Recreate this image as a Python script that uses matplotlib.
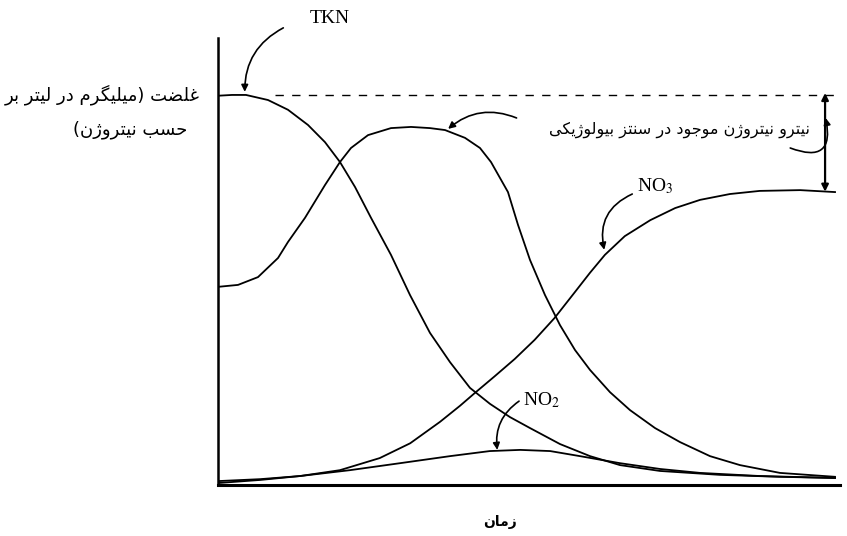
import matplotlib
matplotlib.use("Agg")
import matplotlib.pyplot as plt
import numpy as np

# time axis: 0..100, concentration axis: 0..~115 (TKN start = 100)
tkn_t = [0, 2.25, 4.5, 8.04, 11.25, 14.47, 17.2, 19.61, 22.03, 24.6, 27.81, 30.87, 34.08,
         37.3, 40.51, 43.73, 46.95, 50.16, 54.98, 59.81, 64.63, 71.06, 80.71, 90.35, 99.2]
tkn_c = [99.8, 100.0, 100.0, 98.7, 96.2, 92.3, 87.9, 82.8, 76.4, 68.5, 59.0, 48.7, 39.0,
         31.5, 24.9, 20.8, 17.4, 14.6, 10.5, 7.4, 5.1, 3.6, 2.6, 2.1, 1.8]

nh3_t = [0, 3.22, 6.43, 9.65, 11.25, 13.99, 17.2, 19.61, 21.38, 24.12, 27.81, 31.03, 34.08,
         36.5, 39.71, 42.12, 43.89, 46.62, 48.23, 50.16, 52.57, 54.98, 57.4, 59.81, 63.02,
         66.24, 70.26, 74.28, 79.1, 83.92, 90.35, 99.2]
nh3_c = [50.8, 51.3, 53.3, 58.2, 62.3, 68.5, 76.9, 82.8, 86.4, 89.7, 91.5, 91.8, 91.5,
         91.0, 89.0, 86.4, 82.8, 75.1, 66.7, 57.7, 48.7, 41.0, 34.6, 29.5, 23.8,
         19.2, 14.6, 11.0, 7.4, 5.1, 3.1, 2.1]

no3_t = [0, 6.8, 13.2, 19.6, 26.0, 30.9, 35.7, 38.9, 41.3, 44.5, 47.7, 50.9, 54.1,
         57.4, 59.8, 62.2, 65.4, 69.5, 73.5, 77.5, 82.3, 87.1, 93.6, 99.2]
no3_c = [1.0, 1.5, 2.3, 3.8, 6.9, 10.7, 16.2, 20.3, 23.6, 27.9, 32.3, 37.2, 42.8,
         49.5, 54.4, 59.0, 63.8, 67.9, 71.0, 73.1, 74.6, 75.4, 75.6, 75.1]

no2_t = [0, 6.8, 13.2, 21.2, 29.3, 37.3, 43.7, 48.6, 53.4, 58.2, 64.6, 71.1, 77.5, 87.1, 99.2]
no2_c = [0.5, 1.3, 2.3, 3.8, 5.6, 7.4, 8.7, 9.0, 8.7, 7.4, 5.6, 4.1, 3.1, 2.3, 1.8]

# persian labels
ylab1 = "غلضت (میلیگرم در لیتر بر"
ylab2 = "حسب نیتروژن)"
xlab = "زمان"
biolab = "نیترو نیتروژن موجود در سنتز بیولوژیکی"

# contextual forms: isolated, final, initial, medial
FORMS = {
    'ا': (0xFE8D, 0xFE8E), 'د': (0xFEA9, 0xFEAA), 'ر': (0xFEAD, 0xFEAE),
    'ز': (0xFEAF, 0xFEB0), 'ژ': (0xFB8A, 0xFB8B), 'و': (0xFEED, 0xFEEE),
    'ب': (0xFE8F, 0xFE90, 0xFE91, 0xFE92), 'ت': (0xFE95, 0xFE96, 0xFE97, 0xFE98),
    'ج': (0xFE9D, 0xFE9E, 0xFE9F, 0xFEA0), 'ح': (0xFEA1, 0xFEA2, 0xFEA3, 0xFEA4),
    'س': (0xFEB1, 0xFEB2, 0xFEB3, 0xFEB4), 'ض': (0xFEBD, 0xFEBE, 0xFEBF, 0xFEC0),
    'غ': (0xFECD, 0xFECE, 0xFECF, 0xFED0), 'ل': (0xFEDD, 0xFEDE, 0xFEDF, 0xFEE0),
    'م': (0xFEE1, 0xFEE2, 0xFEE3, 0xFEE4), 'ن': (0xFEE5, 0xFEE6, 0xFEE7, 0xFEE8),
    'ی': (0xFBFC, 0xFBFD, 0xFBFE, 0xFBFF), 'ک': (0xFB8E, 0xFB8F, 0xFB90, 0xFB91),
    'گ': (0xFB92, 0xFB93, 0xFB94, 0xFB95),
}


#shape arabic letters and put them in visual order (no raqm in matplotlib)
def persian(text):
    out = []
    for i, ch in enumerate(text):
        f = FORMS.get(ch)
        if f is None:
            out.append(ch)
            continue
        prev = text[i-1] if i > 0 else ''
        nxt = text[i+1] if i+1 < len(text) else ''
        jp = prev in FORMS and len(FORMS[prev]) == 4
        jn = nxt in FORMS and len(f) == 4
        if len(f) == 2:
            out.append(chr(f[1] if jp else f[0]))
        else:
            idx = {(False, False): 0, (True, False): 1, (False, True): 2, (True, True): 3}[(jp, jn)]
            out.append(chr(f[idx]))
    s = ''.join(out)[::-1]
    return s.translate(str.maketrans('()', ')('))


plt.rcParams['font.family'] = ['Liberation Serif', 'DejaVu Sans']
plt.rcParams['mathtext.fontset'] = 'stix'

fig = plt.figure(figsize=(8.47, 5.36), dpi=100)
W, H = 847.0, 536.0
ax = fig.add_axes([218/W, (H-485)/H, (840-218)/W, (485-38)/H])
ax.set_xlim(0, 100)
ax.set_ylim(0, 114.6)

lw = 1.3
ax.plot(tkn_t, tkn_c, color='black', lw=lw)
ax.plot(nh3_t, nh3_c, color='black', lw=lw)
ax.plot(no3_t, no3_c, color='black', lw=lw)
ax.plot(no2_t, no2_c, color='black', lw=lw)

# dashed level of the initial TKN
ax.plot([9.2, 100], [100, 100], color='black', lw=1.0, ls=(0, (6, 6)))
# double arrow: nitrogen used in synthesis
ax.annotate("", xy=(97.6, 100.5), xytext=(97.6, 75.2),
            arrowprops=dict(arrowstyle="<|-|>", color='black', lw=1.6,
                            mutation_scale=10, shrinkA=0, shrinkB=0))

for side in ['top', 'right']:
    ax.spines[side].set_visible(False)
ax.spines['left'].set_linewidth(1.8)
ax.spines['bottom'].set_linewidth(2.2)
ax.set_xticks([])
ax.set_yticks([])

arrow = dict(arrowstyle="-|>", color='black', lw=1.2, mutation_scale=10, shrinkA=0, shrinkB=0)

def curved(start, tip, rad):
    p = dict(arrow)
    p['connectionstyle'] = "arc3,rad=%s" % rad
    ax.annotate("", xy=tip, xytext=start, arrowprops=p, annotation_clip=False)

curved((10.5, 117.2), (4.3, 100.8), 0.3)
curved((48.0, 94.1), (37.0, 91.3), 0.3)
curved((66.6, 74.6), (62.1, 60.3), 0.4)
curved((48.4, 21.5), (44.9, 9.0), 0.3)
curved((92.0, 86.4), (97.7, 94.1), 0.9)

ax.text(18.0, 119.7, "TKN", fontsize=14, ha='center', va='center', clip_on=False)
ax.text(67.4, 76.5, "NO$_3$", fontsize=14, ha='left', va='center')
ax.text(49.0, 21.7, "NO$_2$", fontsize=14, ha='left', va='center')

ax.text(95.2, 91.0, persian(biolab), fontsize=11.5, family='DejaVu Sans',
        ha='right', va='center')

fig.text(200/W, (H-95)/H, persian(ylab1), fontsize=13, family='DejaVu Sans',
         ha='right', va='center')
fig.text(187/W, (H-130)/H, persian(ylab2), fontsize=13, family='DejaVu Sans',
         ha='right', va='center')
fig.text(500/W, (H-522)/H, persian(xlab), fontsize=10, family='DejaVu Sans',
         fontweight='bold', ha='center', va='center')

fig.savefig("out.png", dpi=100)
